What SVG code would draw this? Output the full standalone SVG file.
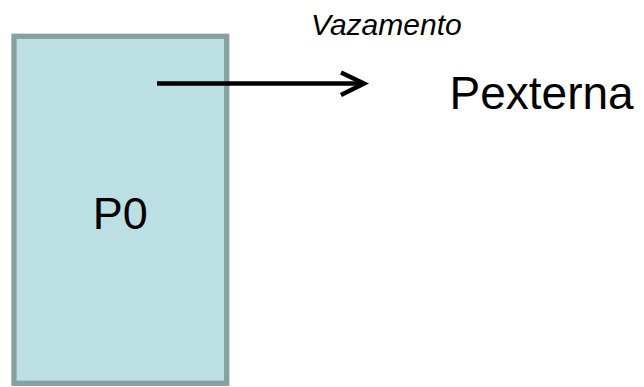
<svg xmlns="http://www.w3.org/2000/svg" width="644" height="387" viewBox="0 0 644 387">
  <style>
    .lbl { font-family: "Liberation Sans", Arial, sans-serif; fill: #000; }
    .box { fill: #BBDFE2; stroke: #87A1A3; stroke-width: 5.3; }
    .flow { stroke: #000; stroke-width: 4.5; fill: none; }
  </style>
  <rect width="644" height="387" fill="#fff"/>
  <g id="p0">
    <rect class="box" x="14" y="36.3" width="212.7" height="347"/>
    <text class="lbl" x="120.3" y="229" font-size="45" text-anchor="middle">P0</text>
  </g>
  <g id="pexterna">
    <text class="lbl" x="449.5" y="109" font-size="46">Pexterna</text>
  </g>
  <g id="connectors">
    <line class="flow" x1="157" y1="83.5" x2="363" y2="83.5"/>
    <polyline class="flow" points="341,72.5 364,83.5 341,95" stroke-linejoin="miter"/>
    <text class="lbl" x="311" y="35" font-size="30" font-style="italic">Vazamento</text>
  </g>
</svg>
